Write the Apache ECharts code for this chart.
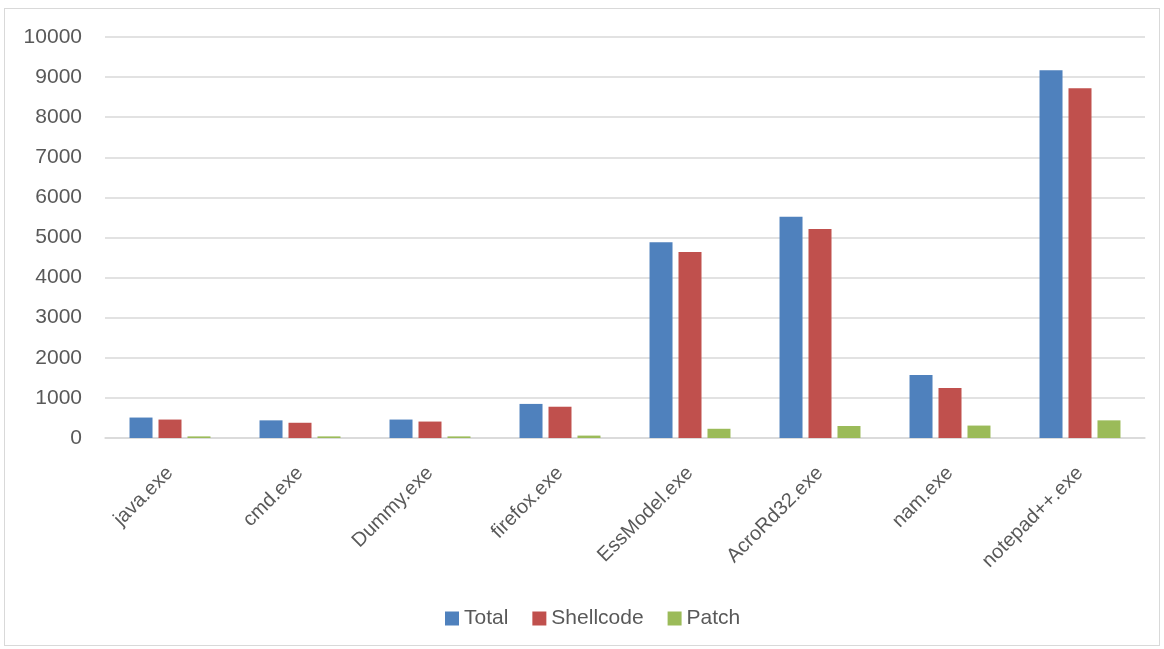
<!DOCTYPE html>
<html>
<head>
<meta charset="utf-8">
<script src="https://cdn.jsdelivr.net/npm/echarts@6/dist/echarts.min.js"></script>
<style>
  html, body { margin: 0; padding: 0; background: #fff; }
  #frame { position: absolute; left: 4px; top: 8px; width: 1156px; height: 638px; border: 1px solid #d9d9d9; box-sizing: border-box; }
  #chart { position: absolute; left: 0; top: 0; width: 1164px; height: 649px; }
</style>
</head>
<body>
<div id="frame"></div>
<div id="chart"></div>
<script>
const categories = ["java.exe", "cmd.exe", "Dummy.exe", "firefox.exe", "EssModel.exe", "AcroRd32.exe", "nam.exe", "notepad++.exe"];
const totalVals = [510, 440, 460, 850, 4880, 5520, 1570, 9170];
const shellcodeVals = [460, 380, 410, 780, 4640, 5210, 1250, 8720];
const patchVals = [40, 40, 40, 60, 230, 300, 310, 440];

const FONT = "'Liberation Sans', 'DejaVu Sans', sans-serif";
const TXT = "#595959";

const chart = echarts.init(document.getElementById("chart"));

function bar(name, data, color) {
  return {
    name: name,
    type: "bar",
    data: data,
    barWidth: 23,
    barGap: "26%",
    itemStyle: { color: color },
    emphasis: { disabled: true }
  };
}

chart.setOption({
  animation: false,
  grid: { left: 105, right: 19, top: 37, bottom: 211 },
  legend: {
    bottom: 15,
    left: 440,
    itemWidth: 14,
    itemHeight: 14,
    itemGap: 24,
    icon: "rect",
    textStyle: { color: TXT, fontSize: 21, fontFamily: FONT },
    data: ["Total", "Shellcode", "Patch"]
  },
  xAxis: {
    type: "category",
    data: categories,
    axisLine: { lineStyle: { color: "#d9d9d9", width: 1.5 } },
    axisTick: { show: false },
    axisLabel: {
      rotate: 45,
      margin: 32,
      color: TXT,
      fontSize: 20,
      fontFamily: FONT,
      interval: 0
    }
  },
  yAxis: {
    type: "value",
    min: 0,
    max: 10000,
    interval: 1000,
    axisLine: { show: false },
    axisTick: { show: false },
    axisLabel: {
      color: TXT,
      fontSize: 21,
      fontFamily: FONT,
      margin: 23,
      formatter: function (v) { return String(v); }
    },
    splitLine: { lineStyle: { color: "#d9d9d9", width: 1.5 } }
  },
  series: [
    bar("Total", totalVals, "#4f81bd"),
    bar("Shellcode", shellcodeVals, "#c0504d"),
    bar("Patch", patchVals, "#9bbb59")
  ]
});
</script>
</body>
</html>
